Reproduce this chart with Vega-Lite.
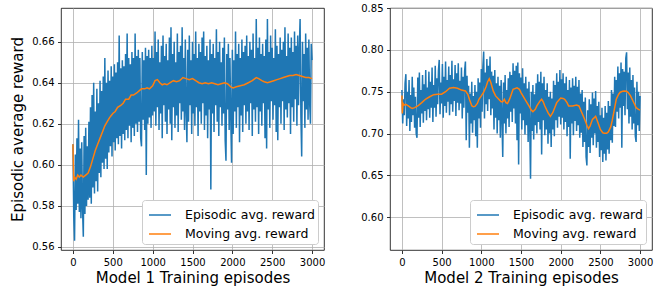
{
"$schema": "https://vega.github.io/schema/vega-lite/v6.json",
"padding": {"left": 10, "top": 2, "right": 5, "bottom": 5},
"spacing": 34,
"datasets": {
"m1": [
{"e":0,"v":0.610},{"e":10,"v":0.575},{"e":20,"v":0.563},{"e":30,"v":0.605},{"e":40,"v":0.578},{"e":50,"v":0.613},{"e":60,"v":0.581},{"e":70,"v":0.622},{"e":80,"v":0.577},{"e":90,"v":0.608},{"e":100,"v":0.574},{"e":110,"v":0.611},{"e":120,"v":0.579},{"e":130,"v":0.565},{"e":140,"v":0.614},{"e":150,"v":0.576},{"e":160,"v":0.618},{"e":170,"v":0.580},{"e":180,"v":0.609},{"e":190,"v":0.583},{"e":200,"v":0.621},
{"e":210,"v":0.584},{"e":220,"v":0.628},{"e":230,"v":0.581},{"e":240,"v":0.634},{"e":250,"v":0.589},{"e":260,"v":0.640},{"e":270,"v":0.586},{"e":280,"v":0.626},{"e":290,"v":0.592},{"e":300,"v":0.637},{"e":310,"v":0.587},{"e":320,"v":0.630},{"e":330,"v":0.596},{"e":340,"v":0.641},{"e":350,"v":0.594},{"e":360,"v":0.636},{"e":370,"v":0.601},{"e":380,"v":0.643},{"e":390,"v":0.598},{"e":400,"v":0.652},
{"e":410,"v":0.603},{"e":420,"v":0.640},{"e":430,"v":0.598},{"e":440,"v":0.646},{"e":450,"v":0.606},{"e":460,"v":0.641},{"e":470,"v":0.609},{"e":480,"v":0.648},{"e":490,"v":0.604},{"e":500,"v":0.643},{"e":510,"v":0.611},{"e":520,"v":0.649},{"e":530,"v":0.607},{"e":540,"v":0.645},{"e":550,"v":0.613},{"e":560,"v":0.650},{"e":570,"v":0.610},{"e":580,"v":0.663},{"e":590,"v":0.614},{"e":600,"v":0.647},
{"e":610,"v":0.608},{"e":620,"v":0.651},{"e":630,"v":0.615},{"e":640,"v":0.648},{"e":650,"v":0.612},{"e":660,"v":0.654},{"e":670,"v":0.617},{"e":680,"v":0.664},{"e":690,"v":0.613},{"e":700,"v":0.652},{"e":710,"v":0.619},{"e":720,"v":0.649},{"e":730,"v":0.611},{"e":740,"v":0.655},{"e":750,"v":0.618},{"e":760,"v":0.652},{"e":770,"v":0.614},{"e":780,"v":0.664},{"e":790,"v":0.620},{"e":800,"v":0.653},
{"e":810,"v":0.616},{"e":820,"v":0.656},{"e":830,"v":0.621},{"e":840,"v":0.652},{"e":850,"v":0.613},{"e":860,"v":0.609},{"e":870,"v":0.655},{"e":880,"v":0.622},{"e":890,"v":0.651},{"e":900,"v":0.617},{"e":910,"v":0.657},{"e":920,"v":0.595},{"e":930,"v":0.653},{"e":940,"v":0.620},{"e":950,"v":0.656},{"e":960,"v":0.623},{"e":970,"v":0.652},{"e":980,"v":0.618},{"e":990,"v":0.658},{"e":1000,"v":0.624},
{"e":1010,"v":0.652},{"e":1020,"v":0.626},{"e":1030,"v":0.665},{"e":1040,"v":0.619},{"e":1050,"v":0.655},{"e":1060,"v":0.628},{"e":1070,"v":0.661},{"e":1080,"v":0.617},{"e":1090,"v":0.650},{"e":1100,"v":0.625},{"e":1110,"v":0.658},{"e":1120,"v":0.613},{"e":1130,"v":0.663},{"e":1140,"v":0.629},{"e":1150,"v":0.653},{"e":1160,"v":0.621},{"e":1170,"v":0.659},{"e":1180,"v":0.615},{"e":1190,"v":0.651},{"e":1200,"v":0.627},
{"e":1210,"v":0.662},{"e":1220,"v":0.620},{"e":1230,"v":0.667},{"e":1240,"v":0.612},{"e":1250,"v":0.654},{"e":1260,"v":0.628},{"e":1270,"v":0.660},{"e":1280,"v":0.618},{"e":1290,"v":0.650},{"e":1300,"v":0.624},{"e":1310,"v":0.664},{"e":1320,"v":0.616},{"e":1330,"v":0.655},{"e":1340,"v":0.630},{"e":1350,"v":0.658},{"e":1360,"v":0.622},{"e":1370,"v":0.667},{"e":1380,"v":0.626},{"e":1390,"v":0.652},{"e":1400,"v":0.617},
{"e":1410,"v":0.661},{"e":1420,"v":0.627},{"e":1430,"v":0.611},{"e":1440,"v":0.656},{"e":1450,"v":0.621},{"e":1460,"v":0.663},{"e":1470,"v":0.629},{"e":1480,"v":0.651},{"e":1490,"v":0.615},{"e":1500,"v":0.660},{"e":1510,"v":0.625},{"e":1520,"v":0.654},{"e":1530,"v":0.619},{"e":1540,"v":0.665},{"e":1550,"v":0.628},{"e":1560,"v":0.652},{"e":1570,"v":0.614},{"e":1580,"v":0.659},{"e":1590,"v":0.626},{"e":1600,"v":0.655},
{"e":1610,"v":0.620},{"e":1620,"v":0.662},{"e":1630,"v":0.630},{"e":1640,"v":0.665},{"e":1650,"v":0.617},{"e":1660,"v":0.653},{"e":1670,"v":0.624},{"e":1680,"v":0.658},{"e":1690,"v":0.613},{"e":1700,"v":0.651},{"e":1710,"v":0.627},{"e":1720,"v":0.661},{"e":1730,"v":0.588},{"e":1740,"v":0.654},{"e":1750,"v":0.625},{"e":1760,"v":0.659},{"e":1770,"v":0.616},{"e":1780,"v":0.652},{"e":1790,"v":0.629},{"e":1800,"v":0.666},
{"e":1810,"v":0.621},{"e":1820,"v":0.655},{"e":1830,"v":0.614},{"e":1840,"v":0.660},{"e":1850,"v":0.628},{"e":1860,"v":0.650},{"e":1870,"v":0.619},{"e":1880,"v":0.657},{"e":1890,"v":0.625},{"e":1900,"v":0.662},{"e":1910,"v":0.612},{"e":1920,"v":0.602},{"e":1930,"v":0.654},{"e":1940,"v":0.627},{"e":1950,"v":0.659},{"e":1960,"v":0.617},{"e":1970,"v":0.652},{"e":1980,"v":0.623},{"e":1990,"v":0.601},{"e":2000,"v":0.656},
{"e":2010,"v":0.615},{"e":2020,"v":0.651},{"e":2030,"v":0.626},{"e":2040,"v":0.665},{"e":2050,"v":0.618},{"e":2060,"v":0.654},{"e":2070,"v":0.628},{"e":2080,"v":0.659},{"e":2090,"v":0.611},{"e":2100,"v":0.652},{"e":2110,"v":0.624},{"e":2120,"v":0.661},{"e":2130,"v":0.616},{"e":2140,"v":0.655},{"e":2150,"v":0.629},{"e":2160,"v":0.658},{"e":2170,"v":0.620},{"e":2180,"v":0.663},{"e":2190,"v":0.626},{"e":2200,"v":0.653},
{"e":2210,"v":0.617},{"e":2220,"v":0.660},{"e":2230,"v":0.630},{"e":2240,"v":0.656},{"e":2250,"v":0.614},{"e":2260,"v":0.664},{"e":2270,"v":0.627},{"e":2280,"v":0.652},{"e":2290,"v":0.621},{"e":2300,"v":0.671},{"e":2310,"v":0.628},{"e":2320,"v":0.657},{"e":2330,"v":0.615},{"e":2340,"v":0.662},{"e":2350,"v":0.626},{"e":2360,"v":0.654},{"e":2370,"v":0.619},{"e":2380,"v":0.659},{"e":2390,"v":0.630},{"e":2400,"v":0.653},
{"e":2410,"v":0.613},{"e":2420,"v":0.661},{"e":2430,"v":0.608},{"e":2440,"v":0.671},{"e":2450,"v":0.627},{"e":2460,"v":0.655},{"e":2470,"v":0.618},{"e":2480,"v":0.663},{"e":2490,"v":0.631},{"e":2500,"v":0.657},{"e":2510,"v":0.622},{"e":2520,"v":0.652},{"e":2530,"v":0.629},{"e":2540,"v":0.666},{"e":2550,"v":0.616},{"e":2560,"v":0.658},{"e":2570,"v":0.612},{"e":2580,"v":0.654},{"e":2590,"v":0.628},{"e":2600,"v":0.662},
{"e":2610,"v":0.620},{"e":2620,"v":0.656},{"e":2630,"v":0.631},{"e":2640,"v":0.660},{"e":2650,"v":0.617},{"e":2660,"v":0.667},{"e":2670,"v":0.627},{"e":2680,"v":0.653},{"e":2690,"v":0.623},{"e":2700,"v":0.664},{"e":2710,"v":0.630},{"e":2720,"v":0.657},{"e":2730,"v":0.615},{"e":2740,"v":0.662},{"e":2750,"v":0.628},{"e":2760,"v":0.655},{"e":2770,"v":0.621},{"e":2780,"v":0.665},{"e":2790,"v":0.632},{"e":2800,"v":0.658},
{"e":2810,"v":0.619},{"e":2820,"v":0.663},{"e":2830,"v":0.629},{"e":2840,"v":0.656},{"e":2850,"v":0.671},{"e":2860,"v":0.624},{"e":2870,"v":0.604},{"e":2880,"v":0.660},{"e":2890,"v":0.631},{"e":2900,"v":0.654},{"e":2910,"v":0.618},{"e":2920,"v":0.664},{"e":2930,"v":0.627},{"e":2940,"v":0.657},{"e":2950,"v":0.622},{"e":2960,"v":0.661},{"e":2970,"v":0.630},{"e":2980,"v":0.620},{"e":2990,"v":0.659},{"e":3000,"v":0.651}
],
"a1": [
{"e":0,"v":0.610},{"e":5,"v":0.600},{"e":10,"v":0.592},{"e":20,"v":0.594},{"e":40,"v":0.593},{"e":60,"v":0.595},{"e":80,"v":0.594},{"e":100,"v":0.595},{"e":130,"v":0.594},{"e":160,"v":0.595},{"e":190,"v":0.596},{"e":220,"v":0.599},{"e":250,"v":0.603},{"e":280,"v":0.607},{"e":310,"v":0.610},{"e":340,"v":0.613},{"e":370,"v":0.616},{"e":400,"v":0.619},{"e":430,"v":0.621},{"e":460,"v":0.623},{"e":500,"v":0.625},{"e":530,"v":0.626},{"e":560,"v":0.628},{"e":600,"v":0.629},{"e":630,"v":0.630},{"e":660,"v":0.632},{"e":700,"v":0.632},{"e":730,"v":0.634},{"e":760,"v":0.634},{"e":800,"v":0.635},{"e":830,"v":0.636},{"e":860,"v":0.637},{"e":900,"v":0.637},{"e":930,"v":0.6375},{"e":960,"v":0.637},{"e":1000,"v":0.6385},{"e":1030,"v":0.641},{"e":1060,"v":0.6415},{"e":1090,"v":0.640},{"e":1120,"v":0.639},{"e":1150,"v":0.6395},{"e":1180,"v":0.639},{"e":1220,"v":0.640},{"e":1260,"v":0.641},{"e":1300,"v":0.6405},{"e":1340,"v":0.641},{"e":1380,"v":0.6425},{"e":1420,"v":0.642},{"e":1460,"v":0.6415},{"e":1500,"v":0.642},{"e":1540,"v":0.641},{"e":1580,"v":0.640},{"e":1620,"v":0.6395},{"e":1660,"v":0.640},{"e":1700,"v":0.6395},{"e":1740,"v":0.640},{"e":1780,"v":0.6395},{"e":1820,"v":0.639},{"e":1860,"v":0.6395},{"e":1900,"v":0.640},{"e":1940,"v":0.6395},{"e":1980,"v":0.638},{"e":2010,"v":0.6375},{"e":2050,"v":0.638},{"e":2100,"v":0.6385},{"e":2150,"v":0.639},{"e":2200,"v":0.640},{"e":2250,"v":0.641},{"e":2300,"v":0.6425},{"e":2330,"v":0.642},{"e":2370,"v":0.641},{"e":2400,"v":0.6405},{"e":2440,"v":0.640},{"e":2480,"v":0.6405},{"e":2520,"v":0.641},{"e":2560,"v":0.6415},{"e":2600,"v":0.642},{"e":2640,"v":0.6425},{"e":2680,"v":0.643},{"e":2720,"v":0.6435},{"e":2760,"v":0.6435},{"e":2800,"v":0.644},{"e":2840,"v":0.6435},{"e":2880,"v":0.643},{"e":2920,"v":0.6425},{"e":2960,"v":0.6425},{"e":3000,"v":0.642}
],
"m2": [
{"e":0,"v":0.752},{"e":10,"v":0.712},{"e":20,"v":0.741},{"e":30,"v":0.722},{"e":40,"v":0.760},{"e":50,"v":0.771},{"e":60,"v":0.709},{"e":70,"v":0.750},{"e":80,"v":0.718},{"e":90,"v":0.764},{"e":100,"v":0.703},{"e":110,"v":0.746},{"e":120,"v":0.714},{"e":130,"v":0.768},{"e":140,"v":0.722},{"e":150,"v":0.755},{"e":160,"v":0.707},{"e":170,"v":0.744},{"e":180,"v":0.700},{"e":190,"v":0.695},{"e":200,"v":0.767},
{"e":210,"v":0.719},{"e":220,"v":0.773},{"e":230,"v":0.708},{"e":240,"v":0.752},{"e":250,"v":0.724},{"e":260,"v":0.770},{"e":270,"v":0.713},{"e":280,"v":0.759},{"e":290,"v":0.727},{"e":300,"v":0.776},{"e":310,"v":0.716},{"e":320,"v":0.755},{"e":330,"v":0.729},{"e":340,"v":0.774},{"e":350,"v":0.719},{"e":360,"v":0.762},{"e":370,"v":0.731},{"e":380,"v":0.779},{"e":390,"v":0.714},{"e":400,"v":0.758},
{"e":410,"v":0.731},{"e":420,"v":0.781},{"e":430,"v":0.720},{"e":440,"v":0.766},{"e":450,"v":0.735},{"e":460,"v":0.775},{"e":470,"v":0.788},{"e":480,"v":0.723},{"e":490,"v":0.761},{"e":500,"v":0.736},{"e":510,"v":0.783},{"e":520,"v":0.719},{"e":530,"v":0.768},{"e":540,"v":0.733},{"e":550,"v":0.786},{"e":560,"v":0.725},{"e":570,"v":0.764},{"e":580,"v":0.738},{"e":590,"v":0.780},{"e":600,"v":0.722},
{"e":610,"v":0.770},{"e":620,"v":0.735},{"e":630,"v":0.787},{"e":640,"v":0.726},{"e":650,"v":0.765},{"e":660,"v":0.739},{"e":670,"v":0.782},{"e":680,"v":0.721},{"e":690,"v":0.772},{"e":700,"v":0.737},{"e":710,"v":0.784},{"e":720,"v":0.728},{"e":730,"v":0.763},{"e":740,"v":0.736},{"e":750,"v":0.779},{"e":760,"v":0.718},{"e":770,"v":0.768},{"e":780,"v":0.731},{"e":790,"v":0.775},{"e":800,"v":0.786},
{"e":810,"v":0.692},{"e":820,"v":0.769},{"e":830,"v":0.725},{"e":840,"v":0.757},{"e":850,"v":0.683},{"e":860,"v":0.748},{"e":870,"v":0.712},{"e":880,"v":0.762},{"e":890,"v":0.701},{"e":900,"v":0.745},{"e":910,"v":0.716},{"e":920,"v":0.758},{"e":930,"v":0.697},{"e":940,"v":0.750},{"e":950,"v":0.683},{"e":960,"v":0.766},{"e":970,"v":0.718},{"e":980,"v":0.761},{"e":990,"v":0.707},{"e":1000,"v":0.777},
{"e":1010,"v":0.726},{"e":1020,"v":0.780},{"e":1030,"v":0.798},{"e":1040,"v":0.718},{"e":1050,"v":0.773},{"e":1060,"v":0.735},{"e":1070,"v":0.789},{"e":1080,"v":0.727},{"e":1090,"v":0.781},{"e":1100,"v":0.741},{"e":1110,"v":0.792},{"e":1120,"v":0.722},{"e":1130,"v":0.774},{"e":1140,"v":0.730},{"e":1150,"v":0.769},{"e":1160,"v":0.705},{"e":1170,"v":0.776},{"e":1180,"v":0.719},{"e":1190,"v":0.760},{"e":1200,"v":0.700},
{"e":1210,"v":0.768},{"e":1220,"v":0.716},{"e":1230,"v":0.757},{"e":1240,"v":0.695},{"e":1250,"v":0.764},{"e":1260,"v":0.719},{"e":1270,"v":0.672},{"e":1280,"v":0.761},{"e":1290,"v":0.712},{"e":1300,"v":0.770},{"e":1310,"v":0.700},{"e":1320,"v":0.752},{"e":1330,"v":0.718},{"e":1340,"v":0.766},{"e":1350,"v":0.708},{"e":1360,"v":0.774},{"e":1370,"v":0.726},{"e":1380,"v":0.770},{"e":1390,"v":0.714},{"e":1400,"v":0.784},
{"e":1410,"v":0.730},{"e":1420,"v":0.775},{"e":1430,"v":0.712},{"e":1440,"v":0.781},{"e":1450,"v":0.692},{"e":1460,"v":0.785},{"e":1470,"v":0.663},{"e":1480,"v":0.772},{"e":1490,"v":0.724},{"e":1500,"v":0.767},{"e":1510,"v":0.705},{"e":1520,"v":0.778},{"e":1530,"v":0.716},{"e":1540,"v":0.760},{"e":1550,"v":0.699},{"e":1560,"v":0.768},{"e":1570,"v":0.710},{"e":1580,"v":0.754},{"e":1590,"v":0.690},{"e":1600,"v":0.762},
{"e":1610,"v":0.708},{"e":1620,"v":0.646},{"e":1630,"v":0.750},{"e":1640,"v":0.703},{"e":1650,"v":0.758},{"e":1660,"v":0.693},{"e":1670,"v":0.747},{"e":1680,"v":0.710},{"e":1690,"v":0.760},{"e":1700,"v":0.700},{"e":1710,"v":0.771},{"e":1720,"v":0.714},{"e":1730,"v":0.762},{"e":1740,"v":0.705},{"e":1750,"v":0.774},{"e":1760,"v":0.675},{"e":1770,"v":0.760},{"e":1780,"v":0.716},{"e":1790,"v":0.768},{"e":1800,"v":0.698},
{"e":1810,"v":0.752},{"e":1820,"v":0.705},{"e":1830,"v":0.760},{"e":1840,"v":0.688},{"e":1850,"v":0.744},{"e":1860,"v":0.700},{"e":1870,"v":0.750},{"e":1880,"v":0.684},{"e":1890,"v":0.742},{"e":1900,"v":0.705},{"e":1910,"v":0.763},{"e":1920,"v":0.697},{"e":1930,"v":0.758},{"e":1940,"v":0.716},{"e":1950,"v":0.772},{"e":1960,"v":0.707},{"e":1970,"v":0.762},{"e":1980,"v":0.720},{"e":1990,"v":0.776},{"e":2000,"v":0.711},
{"e":2010,"v":0.765},{"e":2020,"v":0.719},{"e":2030,"v":0.772},{"e":2040,"v":0.705},{"e":2050,"v":0.760},{"e":2060,"v":0.714},{"e":2070,"v":0.768},{"e":2080,"v":0.697},{"e":2090,"v":0.752},{"e":2100,"v":0.708},{"e":2110,"v":0.764},{"e":2120,"v":0.670},{"e":2130,"v":0.755},{"e":2140,"v":0.712},{"e":2150,"v":0.766},{"e":2160,"v":0.698},{"e":2170,"v":0.757},{"e":2180,"v":0.715},{"e":2190,"v":0.768},{"e":2200,"v":0.703},
{"e":2210,"v":0.756},{"e":2220,"v":0.710},{"e":2230,"v":0.764},{"e":2240,"v":0.695},{"e":2250,"v":0.748},{"e":2260,"v":0.701},{"e":2270,"v":0.752},{"e":2280,"v":0.684},{"e":2290,"v":0.738},{"e":2300,"v":0.690},{"e":2310,"v":0.743},{"e":2320,"v":0.672},{"e":2330,"v":0.662},{"e":2340,"v":0.728},{"e":2350,"v":0.684},{"e":2360,"v":0.741},{"e":2370,"v":0.677},{"e":2380,"v":0.735},{"e":2390,"v":0.695},{"e":2400,"v":0.749},
{"e":2410,"v":0.686},{"e":2420,"v":0.742},{"e":2430,"v":0.700},{"e":2440,"v":0.751},{"e":2450,"v":0.683},{"e":2460,"v":0.733},{"e":2470,"v":0.690},{"e":2480,"v":0.738},{"e":2490,"v":0.672},{"e":2500,"v":0.722},{"e":2510,"v":0.680},{"e":2520,"v":0.731},{"e":2530,"v":0.666},{"e":2540,"v":0.719},{"e":2550,"v":0.676},{"e":2560,"v":0.733},{"e":2570,"v":0.668},{"e":2580,"v":0.725},{"e":2590,"v":0.681},{"e":2600,"v":0.739},
{"e":2610,"v":0.676},{"e":2620,"v":0.733},{"e":2630,"v":0.692},{"e":2640,"v":0.752},{"e":2650,"v":0.689},{"e":2660,"v":0.748},{"e":2670,"v":0.709},{"e":2680,"v":0.768},{"e":2690,"v":0.708},{"e":2700,"v":0.764},{"e":2710,"v":0.726},{"e":2720,"v":0.780},{"e":2730,"v":0.718},{"e":2740,"v":0.772},{"e":2750,"v":0.731},{"e":2760,"v":0.785},{"e":2770,"v":0.683},{"e":2780,"v":0.777},{"e":2790,"v":0.733},{"e":2800,"v":0.774},
{"e":2810,"v":0.722},{"e":2820,"v":0.790},{"e":2830,"v":0.797},{"e":2840,"v":0.729},{"e":2850,"v":0.773},{"e":2860,"v":0.712},{"e":2870,"v":0.779},{"e":2880,"v":0.720},{"e":2890,"v":0.764},{"e":2900,"v":0.705},{"e":2910,"v":0.770},{"e":2920,"v":0.712},{"e":2930,"v":0.755},{"e":2940,"v":0.697},{"e":2950,"v":0.690},{"e":2960,"v":0.762},{"e":2970,"v":0.710},{"e":2980,"v":0.750},{"e":2990,"v":0.703},{"e":3000,"v":0.745}
],
"a2": [
{"e":0,"v":0.7455},{"e":5,"v":0.724},{"e":15,"v":0.736},{"e":30,"v":0.734},{"e":50,"v":0.735},{"e":80,"v":0.733},{"e":110,"v":0.731},{"e":130,"v":0.730},{"e":160,"v":0.731},{"e":200,"v":0.733},{"e":250,"v":0.737},{"e":300,"v":0.7413},{"e":350,"v":0.744},{"e":400,"v":0.7465},{"e":450,"v":0.747},{"e":500,"v":0.747},{"e":550,"v":0.750},{"e":600,"v":0.7542},{"e":650,"v":0.755},{"e":700,"v":0.7542},{"e":750,"v":0.752},{"e":800,"v":0.751},{"e":830,"v":0.747},{"e":850,"v":0.741},{"e":880,"v":0.7333},{"e":900,"v":0.732},{"e":920,"v":0.7325},{"e":950,"v":0.736},{"e":970,"v":0.741},{"e":1000,"v":0.745},{"e":1030,"v":0.7494},{"e":1060,"v":0.756},{"e":1080,"v":0.762},{"e":1100,"v":0.7655},{"e":1120,"v":0.761},{"e":1150,"v":0.751},{"e":1180,"v":0.745},{"e":1220,"v":0.741},{"e":1250,"v":0.738},{"e":1270,"v":0.738},{"e":1290,"v":0.741},{"e":1310,"v":0.737},{"e":1330,"v":0.736},{"e":1360,"v":0.742},{"e":1400,"v":0.753},{"e":1450,"v":0.7546},{"e":1480,"v":0.753},{"e":1500,"v":0.749},{"e":1550,"v":0.741},{"e":1600,"v":0.733},{"e":1630,"v":0.728},{"e":1650,"v":0.7262},{"e":1680,"v":0.729},{"e":1700,"v":0.733},{"e":1740,"v":0.739},{"e":1760,"v":0.741},{"e":1780,"v":0.738},{"e":1800,"v":0.733},{"e":1840,"v":0.725},{"e":1870,"v":0.7206},{"e":1900,"v":0.725},{"e":1950,"v":0.737},{"e":2000,"v":0.7424},{"e":2030,"v":0.742},{"e":2050,"v":0.741},{"e":2080,"v":0.737},{"e":2100,"v":0.733},{"e":2150,"v":0.733},{"e":2200,"v":0.734},{"e":2230,"v":0.733},{"e":2250,"v":0.7285},{"e":2280,"v":0.722},{"e":2300,"v":0.7174},{"e":2330,"v":0.710},{"e":2350,"v":0.706},{"e":2370,"v":0.709},{"e":2400,"v":0.717},{"e":2440,"v":0.7206},{"e":2470,"v":0.713},{"e":2500,"v":0.705},{"e":2530,"v":0.701},{"e":2550,"v":0.7005},{"e":2580,"v":0.7005},{"e":2600,"v":0.702},{"e":2630,"v":0.708},{"e":2650,"v":0.716},{"e":2680,"v":0.731},{"e":2700,"v":0.741},{"e":2730,"v":0.747},{"e":2750,"v":0.7494},{"e":2780,"v":0.7505},{"e":2800,"v":0.751},{"e":2830,"v":0.7505},{"e":2850,"v":0.749},{"e":2880,"v":0.745},{"e":2900,"v":0.741},{"e":2930,"v":0.735},{"e":2950,"v":0.731},{"e":2980,"v":0.729},{"e":3000,"v":0.728}
]
},
"hconcat": [
{
"width": 263, "height": 242,
"layer": [
{"data": {"name": "m1"}, "mark": {"type": "line", "strokeWidth": 1.5, "clip": true},
 "encoding": {
  "x": {"field": "e", "type": "quantitative", "scale": {"domain": [-150, 3150], "nice": false, "zero": false}, "axis": {"values": [0,500,1000,1500,2000,2500,3000], "format": "d", "title": "Model 1 Training episodes"}},
  "y": {"field": "v", "type": "quantitative", "scale": {"domain": [0.5585, 0.6764], "nice": false, "zero": false}, "axis": {"values": [0.56,0.58,0.60,0.62,0.64,0.66], "format": ".2f", "title": "Episodic average reward"}},
  "color": {"datum": "Episodic avg. reward", "type": "nominal", "scale": {"domain": ["Episodic avg. reward", "Moving avg. reward"], "range": ["#1f77b4", "#ff7f0e"]}, "legend": {"title": null}}
 }},
{"data": {"name": "a1"}, "mark": {"type": "line", "strokeWidth": 1.5, "clip": true},
 "encoding": {
  "x": {"field": "e", "type": "quantitative"},
  "y": {"field": "v", "type": "quantitative"},
  "color": {"datum": "Moving avg. reward", "type": "nominal"}
 }}
]
},
{
"width": 262, "height": 242,
"layer": [
{"data": {"name": "m2"}, "mark": {"type": "line", "strokeWidth": 1.5, "clip": true},
 "encoding": {
  "x": {"field": "e", "type": "quantitative", "scale": {"domain": [-150, 3150], "nice": false, "zero": false}, "axis": {"values": [0,500,1000,1500,2000,2500,3000], "format": "d", "title": "Model 2 Training episodes"}},
  "y": {"field": "v", "type": "quantitative", "scale": {"domain": [0.561, 0.85], "nice": false, "zero": false}, "axis": {"values": [0.60,0.65,0.70,0.75,0.80,0.85], "format": ".2f", "title": null}},
  "color": {"datum": "Episodic avg. reward", "type": "nominal", "scale": {"domain": ["Episodic avg. reward", "Moving avg. reward"], "range": ["#1f77b4", "#ff7f0e"]}, "legend": {"title": null}}
 }},
{"data": {"name": "a2"}, "mark": {"type": "line", "strokeWidth": 1.5, "clip": true},
 "encoding": {
  "x": {"field": "e", "type": "quantitative"},
  "y": {"field": "v", "type": "quantitative"},
  "color": {"datum": "Moving avg. reward", "type": "nominal"}
 }}
]
}
],
"resolve": {"scale": {"color": "independent", "x": "independent", "y": "independent"}},
"config": {
 "font": "DejaVu Sans",
 "background": "white",
 "view": {"stroke": "#000000", "strokeWidth": 0.8},
 "axis": {"domain": false, "grid": true, "gridColor": "#b0b0b0", "gridWidth": 0.8, "tickColor": "#000000", "tickSize": 3.5, "tickWidth": 0.8, "labelColor": "#000000", "labelFontSize": 10, "labelFont": "DejaVu Sans", "labelPadding": 3.5, "titleFont": "DejaVu Sans", "titleFontSize": 15, "titleFontWeight": "normal", "titleColor": "#000000", "titlePadding": 5},
 "axisY": {"titlePadding": 6},
 "axisX": {"titlePadding": 3},
 "legend": {"orient": "bottom-right", "offset": 6, "symbolType": "stroke", "symbolSize": 484, "symbolStrokeWidth": 1.5, "symbolOffset": 3, "labelFontSize": 12.5, "labelFont": "DejaVu Sans", "labelColor": "#000000", "labelOffset": 13, "fillColor": "#ffffff", "strokeColor": "#cccccc", "cornerRadius": 3, "padding": 3, "rowPadding": -3, "labelLimit": 300}
}
}
